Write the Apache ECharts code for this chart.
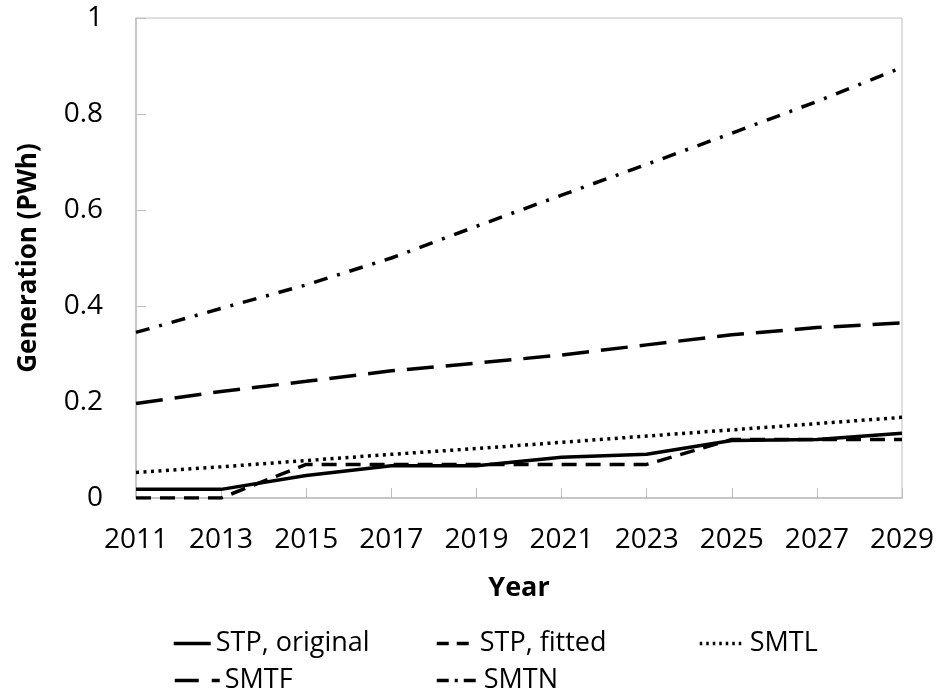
<!DOCTYPE html>
<html>
<head>
<meta charset="utf-8">
<script src="https://cdn.jsdelivr.net/npm/echarts@6/dist/echarts.min.js"></script>
<style>
  html, body { margin: 0; padding: 0; background: #fff; }
  #container { width: 938px; height: 695px; }
</style>
</head>
<body>
<div id="container"></div>
<script>
// years on the x axis and the five scenarios (PWh)
var years = [2011, 2013, 2015, 2017, 2019, 2021, 2023, 2025, 2027, 2029];
var stpOriginal = [0.018, 0.018, 0.047, 0.067, 0.067, 0.085, 0.091, 0.12, 0.122, 0.135];
var stpFitted = [0, 0, 0.07, 0.07, 0.07, 0.07, 0.07, 0.122, 0.122, 0.122];
var smtl = [0.053, 0.065, 0.078, 0.091, 0.103, 0.116, 0.129, 0.142, 0.155, 0.168];
var smtf = [0.197, 0.222, 0.243, 0.265, 0.281, 0.298, 0.319, 0.34, 0.355, 0.365];
var smtn = [0.345, 0.395, 0.444, 0.5, 0.566, 0.631, 0.695, 0.76, 0.826, 0.897];
var seriesNames = ['STP, original', 'STP, fitted', 'SMTL', 'SMTF', 'SMTN'];

var font = '"Open Sans", "Noto Sans", sans-serif';

function pairs(vals) {
    var data = [];
    for (var i = 0; i < years.length; i++) {
        data.push([years[i], vals[i]]);
    }
    return data;
}

function line(name, vals, dash) {
    return {
        name: name,
        type: 'line',
        symbol: 'none',
        silent: true,
        animation: false,
        itemStyle: { color: '#000' },
        lineStyle: { color: '#000', width: 3.5, type: dash, cap: 'butt' },
        data: pairs(vals)
    };
}

// one legend per entry so the two rows line up like the original
function legendAt(name, left, top, width, dash) {
    return {
        data: [name],
        left: left,
        top: top,
        padding: 0,
        itemWidth: width,
        itemHeight: 14,
        selectedMode: false,
        itemStyle: { opacity: 0 },
        lineStyle: { type: dash, width: 3.5, color: '#000', cap: 'butt' },
        textStyle: { fontFamily: font, fontSize: 27, color: '#000' }
    };
}

var myChart = echarts.init(document.getElementById('container'));
var option = {
    animation: false,
    backgroundColor: '#fff',
    grid: {
        left: 136,
        right: 36,
        top: 18,
        bottom: 197,
        show: true,
        borderColor: '#BFBFBF',
        borderWidth: 1
    },
    legend: [
        legendAt(seriesNames[0], 172, 630, 37, 'solid'),
        legendAt(seriesNames[1], 435, 630, 38, [12, 8]),
        legendAt(seriesNames[2], 698, 630, 45, [2.5, 4]),
        legendAt(seriesNames[3], 173, 667, 45, [24, 13, 8, 20]),
        legendAt(seriesNames[4], 435, 667, 42, [12, 6, 3, 6])
    ],
    xAxis: {
        type: 'value',
        min: 2011,
        max: 2029,
        interval: 2,
        name: 'Year',
        nameLocation: 'middle',
        nameGap: 77,
        nameTextStyle: { fontFamily: font, fontSize: 27, fontWeight: 'bold', color: '#000' },
        axisLine: { lineStyle: { color: '#BFBFBF', width: 1.5 } },
        axisTick: { inside: true, length: 10, lineStyle: { color: '#BFBFBF' } },
        splitLine: { show: false },
        axisLabel: {
            fontFamily: font, fontSize: 28, color: '#000', margin: 28,
            formatter: function (v) { return String(v); }
        }
    },
    yAxis: {
        type: 'value',
        min: 0,
        max: 1,
        interval: 0.2,
        name: 'Generation (PWh)',
        nameLocation: 'middle',
        nameGap: 94,
        nameTextStyle: { fontFamily: font, fontSize: 26, fontWeight: 'bold', color: '#000' },
        axisLine: { show: true, lineStyle: { color: '#BFBFBF', width: 1.5 } },
        axisTick: { show: true, inside: true, length: 10, lineStyle: { color: '#BFBFBF' } },
        splitLine: { show: false },
        axisLabel: { fontFamily: font, fontSize: 28, color: '#000', margin: 33 }
    },
    series: [
        line(seriesNames[0], stpOriginal, 'solid'),
        line(seriesNames[1], stpFitted, [15, 9]),
        line(seriesNames[2], smtl, [3, 4.5]),
        line(seriesNames[3], smtf, [27, 12]),
        line(seriesNames[4], smtn, [14, 10, 3, 10])
    ]
};
myChart.setOption(option);
</script>
</body>
</html>
